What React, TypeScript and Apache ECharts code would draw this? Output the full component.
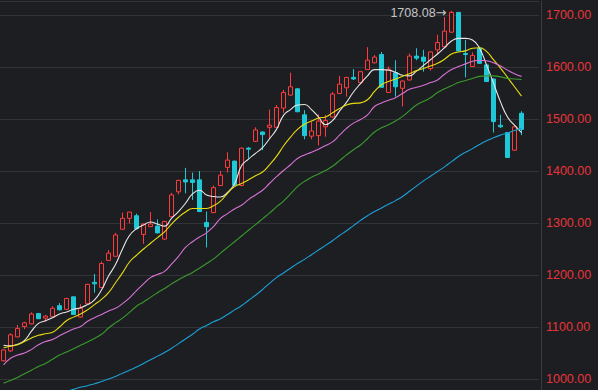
import React, { useEffect, useRef } from "react";
import * as echarts from "echarts";

// candle data: [open, close, low, high]
const candles: number[][] = [
  [1035, 1056, 1034, 1057], [1054, 1085, 1052, 1088], [1081, 1097, 1080, 1104], [1101, 1108, 1096, 1110],
  [1106, 1125, 1105, 1128], [1126, 1116, 1115, 1127], [1117, 1121, 1110, 1123], [1120, 1136, 1119, 1140],
  [1141, 1133, 1132, 1146], [1134, 1155, 1133, 1156], [1158, 1124, 1123, 1158], [1119, 1136, 1118, 1144],
  [1145, 1182, 1144, 1183], [1186, 1183, 1166, 1202], [1176, 1222, 1175, 1226], [1228, 1242, 1227, 1248],
  [1236, 1277, 1235, 1281], [1288, 1309, 1287, 1320], [1309, 1321, 1299, 1321], [1314, 1289, 1288, 1318],
  [1278, 1298, 1260, 1299], [1293, 1298, 1292, 1321], [1294, 1281, 1280, 1307], [1269, 1303, 1268, 1304],
  [1312, 1354, 1311, 1358], [1360, 1382, 1355, 1383], [1383, 1379, 1357, 1406], [1383, 1378, 1344, 1397],
  [1383, 1322, 1321, 1400], [1301, 1293, 1253, 1322], [1320, 1368, 1319, 1372], [1372, 1392, 1371, 1400],
  [1407, 1421, 1397, 1436], [1419, 1373, 1370, 1420], [1372, 1444, 1371, 1445], [1444, 1442, 1424, 1446],
  [1457, 1479, 1456, 1484], [1475, 1470, 1440, 1476], [1484, 1488, 1461, 1518], [1484, 1522, 1483, 1527],
  [1521, 1551, 1512, 1556], [1546, 1562, 1545, 1589], [1558, 1514, 1513, 1559], [1508, 1468, 1461, 1517],
  [1467, 1477, 1461, 1495], [1468, 1496, 1449, 1509], [1485, 1497, 1466, 1508], [1504, 1548, 1503, 1552],
  [1549, 1567, 1548, 1583], [1560, 1580, 1543, 1581], [1580, 1577, 1575, 1596], [1570, 1591, 1568, 1592],
  [1595, 1613, 1595, 1638], [1608, 1619, 1607, 1623], [1624, 1561, 1560, 1629], [1551, 1596, 1550, 1601],
  [1589, 1562, 1543, 1613], [1559, 1573, 1524, 1574], [1575, 1621, 1574, 1626], [1621, 1617, 1613, 1636],
  [1619, 1611, 1591, 1633], [1597, 1629, 1593, 1630], [1633, 1647, 1623, 1662], [1639, 1669, 1638, 1696],
  [1667, 1705, 1666, 1708.08], [1705, 1631, 1630, 1706], [1626, 1624, 1580, 1652], [1601, 1622, 1600, 1628],
  [1636, 1607, 1606, 1639], [1604, 1572, 1571, 1605], [1577, 1495, 1474, 1578], [1488, 1485, 1483, 1508],
  [1474, 1426, 1425, 1475], [1440, 1485, 1439, 1487], [1511, 1480, 1469, 1515],
];

const ma5 = [
  1065, 1064, 1067, 1074, 1092, 1107, 1112, 1118, 1125, 1129, 1134, 1137, 1143, 1152, 1171,
  1198, 1220, 1250, 1276, 1289, 1296, 1302, 1298, 1294, 1309, 1322, 1338, 1356, 1363, 1354,
  1351, 1350, 1359, 1375, 1410, 1423, 1434, 1445, 1462, 1480, 1507, 1518, 1527, 1528, 1518,
  1504, 1489, 1497, 1515, 1532, 1552, 1568, 1583, 1595, 1595, 1594, 1590, 1584, 1583, 1592,
  1603, 1614, 1625, 1637, 1650, 1655, 1655, 1652, 1636, 1604, 1569, 1533, 1504, 1488, 1474,
];

const ma10 = [
  1060, 1063, 1066, 1072, 1079, 1084, 1087, 1090, 1100, 1112, 1119, 1125, 1133, 1143, 1153,
  1166, 1185, 1204, 1225, 1238, 1250, 1261, 1272, 1283, 1298, 1311, 1321, 1328, 1328, 1328,
  1333, 1342, 1357, 1370, 1376, 1383, 1391, 1398, 1412, 1428, 1448, 1465, 1480, 1490, 1496,
  1502, 1504, 1512, 1520, 1527, 1530, 1531, 1537, 1553, 1566, 1572, 1577, 1582, 1587, 1593,
  1597, 1602, 1607, 1615, 1625, 1629, 1631, 1636, 1637, 1630, 1614, 1598, 1580, 1562, 1544,
];

const ma20 = [
  1027, 1040, 1046, 1050, 1057, 1066, 1072, 1076, 1083, 1090, 1096, 1101, 1111, 1118, 1124,
  1131, 1136, 1145, 1156, 1170, 1183, 1195, 1201, 1207, 1221, 1236, 1253, 1264, 1273, 1281,
  1293, 1309, 1318, 1327, 1334, 1345, 1354, 1363, 1376, 1389, 1401, 1412, 1424, 1431, 1436,
  1442, 1449, 1456, 1469, 1482, 1492, 1499, 1508, 1524, 1531, 1536, 1541, 1549, 1557, 1561,
  1565, 1570, 1575, 1586, 1595, 1601, 1606, 1611, 1613, 1612, 1608, 1602, 1594, 1587, 1582,
];

const ma30 = [
  992, 997, 1003, 1010, 1017, 1024, 1030, 1038, 1046, 1052, 1058, 1065, 1071, 1078, 1086,
  1098, 1108, 1117, 1128, 1140, 1148, 1157, 1166, 1174, 1183, 1191, 1198, 1205, 1213, 1222,
  1231, 1242, 1253, 1264, 1275, 1286, 1297, 1308, 1319, 1331, 1342, 1356, 1370, 1380, 1388,
  1394, 1401, 1409, 1420, 1431, 1441, 1450, 1462, 1475, 1483, 1489, 1496, 1505, 1516, 1527,
  1534, 1541, 1551, 1558, 1564, 1570, 1574, 1578, 1582, 1583, 1583, 1581, 1578, 1577, 1576,
];

const ma60: (number | null)[] = [
  null, null, null, null, null, null, null, null, null, 976, 980, 984, 987, 991, 995,
  1000, 1005, 1011, 1017, 1023, 1030, 1037, 1044, 1051, 1059, 1068, 1077, 1086, 1096, 1103,
  1110, 1116, 1124, 1133, 1141, 1151, 1161, 1172, 1184, 1195, 1204, 1213, 1222, 1230, 1239,
  1248, 1257, 1266, 1276, 1285, 1295, 1305, 1314, 1322, 1329, 1336, 1343, 1351, 1361, 1371,
  1381, 1390, 1399, 1408, 1418, 1428, 1436, 1443, 1451, 1458, 1464, 1469, 1473, 1478, 1482,
];

const categoryCount = 77;
const categories = Array.from({ length: categoryCount }, (_, i) => String(i + 1));
const highIndex = 64;
const highValue = 1708.08;
const axisMin = 978.85;
const axisMax = 1726.92;

const BG = "#1d1e22";
const GRID = "#323337";
const RED = "#ff3b3b";
const CYAN = "#1ec8d6";

export default function App() {
  const ref = useRef<HTMLDivElement>(null);
  useEffect(() => {
    if (!ref.current) return;
    const chart = echarts.init(ref.current, undefined, { renderer: "svg" });
    const lineSeries = (data: (number | null)[], color: string) => ({
      type: "line",
      data,
      smooth: true,
      symbol: "none",
      lineStyle: { color, width: 1.1 },
      silent: true,
    });
    chart.setOption({
      animation: false,
      backgroundColor: BG,
      grid: { left: 0, right: 59, top: 1, bottom: 0 },
      xAxis: {
        type: "category",
        data: categories,
        show: false,
        boundaryGap: true,
      },
      yAxis: {
        type: "value",
        position: "right",
        offset: 2,
        min: axisMin,
        max: axisMax,
        splitNumber: 7,
        axisLine: { show: true, lineStyle: { color: "#3a3b40", width: 1 } },
        axisTick: { show: false },
        axisLabel: {
          color: "#e8353a",
          fontSize: 12.5,
          fontFamily: "Arial, 'Liberation Sans', sans-serif",
          margin: 5,
          showMinLabel: false,
          showMaxLabel: false,
          formatter: (v: number) => v.toFixed(2),
        },
        splitLine: { show: true, lineStyle: { color: GRID, width: 1 } },
      },
      graphic: [
        {
          type: "line",
          shape: { x1: 0, y1: 1.5, x2: 539, y2: 1.5 },
          style: { stroke: GRID, lineWidth: 1 },
          silent: true,
        },
      ],
      series: [
        {
          type: "candlestick",
          data: candles,
          barWidth: 5,
          itemStyle: {
            color: BG,
            color0: CYAN,
            borderColor: RED,
            borderColor0: CYAN,
            borderWidth: 1,
          },
          markPoint: {
            symbol: "circle",
            symbolSize: 0,
            data: [{ coord: [categories[highIndex], highValue], value: highValue }],
            label: {
              show: true,
              position: "left",
              distance: 5,
              offset: [0, 2],
              color: "#c4c4c4",
              formatter: (p: any) => `{a|${Number(p.value).toFixed(2)}}{b|→}`,
              rich: {
                a: {
                  color: "#c4c4c4",
                  fontSize: 12.5,
                  fontFamily: "Arial, 'Liberation Sans', sans-serif",
                },
                b: {
                  color: "#c4c4c4",
                  fontSize: 13,
                  fontFamily: "'DejaVu Sans', sans-serif",
                },
              },
            },
          },
        },
        lineSeries(ma5, "#e8e8e8"),
        lineSeries(ma10, "#e8dc10"),
        lineSeries(ma20, "#d872d6"),
        lineSeries(ma30, "#3a9a2e"),
        lineSeries(ma60, "#1d9fd8"),
      ],
    });
    return () => chart.dispose();
  }, []);
  return (
    <div
      ref={ref}
      style={{ position: "fixed", left: 0, top: 0, width: 598, height: 390 }}
    />
  );
}
